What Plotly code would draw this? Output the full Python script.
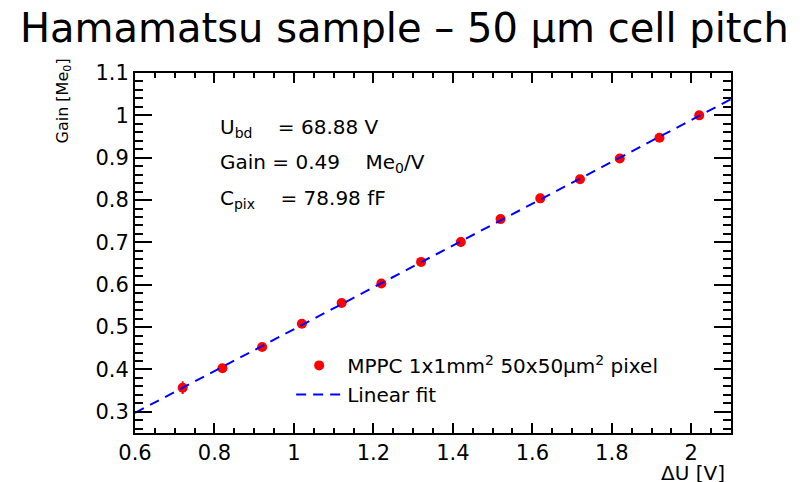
import numpy as np
import plotly.graph_objects as go

delta_u = [0.72, 0.82, 0.92, 1.02, 1.12, 1.22, 1.32, 1.42, 1.52, 1.62, 1.72, 1.82, 1.92, 2.02]
gain = [0.357, 0.403, 0.453, 0.508, 0.557, 0.603, 0.654, 0.701, 0.755, 0.804, 0.849, 0.898, 0.947, 1.000]
gain_err = [0.015, 0.006, 0.005, 0.005, 0.005, 0.005, 0.005, 0.012, 0.005, 0.005, 0.005, 0.005, 0.005, 0.005]
du_err = [0.008] * len(delta_u)

x_ticks = [0.6, 0.8, 1.0, 1.2, 1.4, 1.6, 1.8, 2.0]
x_tick_text = ["0.6", "0.8", "1", "1.2", "1.4", "1.6", "1.8", "2"]
y_ticks = [0.3, 0.4, 0.5, 0.6, 0.7, 0.8, 0.9, 1.0, 1.1]
y_tick_text = ["0.3", "0.4", "0.5", "0.6", "0.7", "0.8", "0.9", "1", "1.1"]

slope, intercept = np.polyfit(delta_u, gain, 1)
fit_x = [0.6, 2.1]
fit_y = [slope * v + intercept for v in fit_x]

FONT = "DejaVu Sans"

fig = go.Figure()
fig.add_trace(go.Scatter(
    x=delta_u, y=gain, mode="markers",
    name="MPPC 1x1mm<sup>2</sup> 50x50\u00b5m<sup>2</sup> pixel",
    legendgroup="a",
    marker=dict(color="#ff0000", size=10),
    error_y=dict(type="data", array=gain_err, color="#ff0000", thickness=2, width=0),
    error_x=dict(type="data", array=du_err, color="#ff0000", thickness=2, width=0),
))
fig.add_trace(go.Scatter(
    x=fit_x, y=fit_y, mode="lines", name="Linear fit",
    legendgroup="b",
    line=dict(color="#0000ff", width=2, dash="10px,7px"),
))

# figure is drawn at an 8px page offset, so it is 800x474 inside the 808x482 window
fig.update_layout(
    width=800, height=474,
    margin=dict(l=127, r=77, t=65, b=49),
    paper_bgcolor="white", plot_bgcolor="white",
    font=dict(family=FONT, size=20, color="black"),
    showlegend=True,
    legend=dict(x=0.262, y=0.242, xanchor="left", yanchor="top",
                bgcolor="rgba(0,0,0,0)", font=dict(size=20, family=FONT),
                tracegroupgap=8, traceorder="normal", itemwidth=46),
)

fig.update_xaxes(
    range=[0.6, 2.1], tickvals=x_ticks, ticktext=x_tick_text,
    tickfont=dict(size=21, family=FONT),
    showgrid=False, zeroline=False, showline=True, linecolor="black", linewidth=2,
    mirror="allticks", ticks="inside", ticklen=10, tickwidth=2, tickcolor="black",
    minor=dict(dtick=0.05, tick0=0.6, ticks="inside", ticklen=5, tickwidth=2, tickcolor="black", showgrid=False),
)
fig.update_yaxes(
    range=[0.25, 1.1], tickvals=y_ticks, ticktext=y_tick_text,
    tickfont=dict(size=21, family=FONT),
    showgrid=False, zeroline=False, showline=True, linecolor="black", linewidth=2,
    mirror="allticks", ticks="inside", ticklen=17, tickwidth=2, tickcolor="black",
    minor=dict(dtick=0.02, tick0=0.3, ticks="inside", ticklen=8, tickwidth=2, tickcolor="black", showgrid=False),
)

fig.add_annotation(text="Hamamatsu sample \u2013 50 \u00b5m cell pitch",
                   x=0.5, y=1, xref="paper", yref="paper", xshift=-29, yshift=45,
                   xanchor="center", yanchor="middle", showarrow=False,
                   height=40, valign="middle",
                   font=dict(family=FONT, size=40, color="black"))
fig.add_annotation(text="Gain [Me<sub>0</sub>]", x=0, y=1, xref="paper", yref="paper",
                   xshift=-72, yshift=16, xanchor="center", yanchor="top", textangle=-90, showarrow=False,
                   font=dict(size=16, family=FONT))
fig.add_annotation(text="\u0394U [V]", x=1, y=0, xref="paper", yref="paper",
                   xshift=-4, yshift=-27, xanchor="right", yanchor="top", showarrow=False,
                   height=22, valign="middle",
                   font=dict(size=20, family=FONT))

stats = [
    "U<sub>bd</sub>    = 68.88 V",
    "Gain = 0.49    Me<sub>0</sub>/V",
    "C<sub>pix</sub>    = 78.98 fF",
]
stats_y = [0.969, 0.887, 0.802]
for s, yv in zip(stats, stats_y):
    fig.add_annotation(text=s, x=0.809, y=yv, xref="x", yref="y",
                       xanchor="left", yanchor="middle", showarrow=False,
                       font=dict(size=20, family=FONT))

fig.write_html("out.html")
